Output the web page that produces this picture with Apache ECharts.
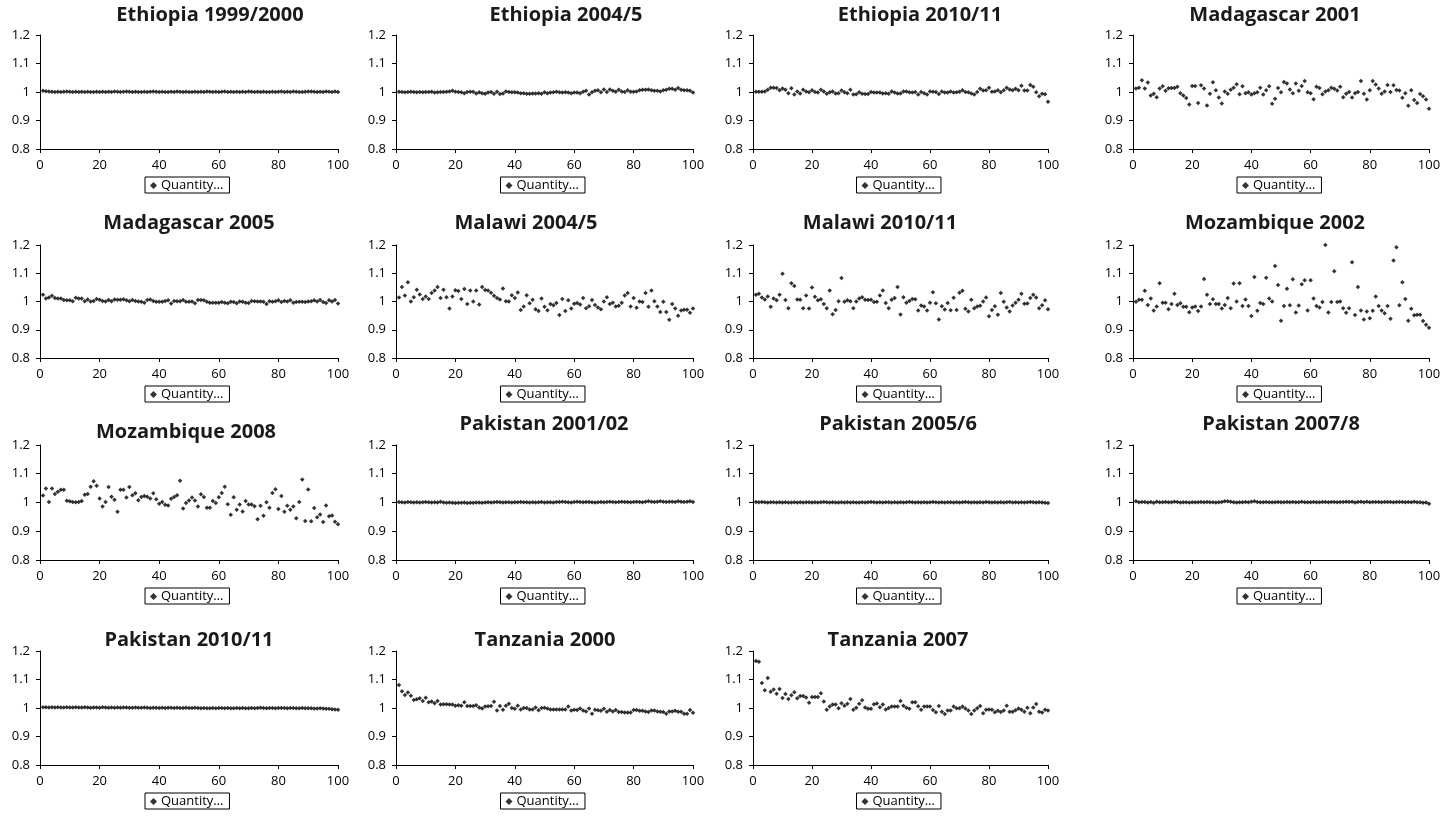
<!DOCTYPE html>
<html>
<head>
<meta charset="utf-8">
<script src="https://cdn.jsdelivr.net/npm/echarts@6/dist/echarts.min.js"></script>
<style>
  html, body { margin: 0; padding: 0; background: #fff; }
  #chart { width: 1452px; height: 817px; }
</style>
</head>
<body>
<div id="chart"></div>
<script>
// Panel titles, in reading order (left to right, top to bottom)
const panelTitles = [
  'Ethiopia 1999/2000', 'Ethiopia 2004/5', 'Ethiopia 2010/11', 'Madagascar 2001',
  'Madagascar 2005', 'Malawi 2004/5', 'Malawi 2010/11', 'Mozambique 2002',
  'Mozambique 2008', 'Pakistan 2001/02', 'Pakistan 2005/6', 'Pakistan 2007/8',
  'Pakistan 2010/11', 'Tanzania 2000', 'Tanzania 2007'
];
const seriesName = 'Quantity\u2026';

// Ratios by percentile (1..100) for each survey
const ethiopia1999 = [
  1.004,1.003,1.002,1.001,1.000,1.001,1.000,1.001,1.002,1.001,
  1.000,1.001,1.000,1.001,1.000,1.001,1.000,1.000,1.001,1.000,
  1.001,1.000,1.001,1.000,1.002,1.001,1.000,1.001,1.002,1.001,
  1.000,1.001,1.000,1.000,1.001,1.000,1.001,1.002,1.001,1.000,
  1.001,1.000,1.000,1.001,1.000,1.002,1.001,1.000,1.001,1.000,
  1.000,1.001,1.000,1.001,1.000,1.002,1.001,1.000,1.001,1.000,
  1.001,1.002,1.000,1.001,1.000,1.001,1.000,1.001,1.000,1.002,
  1.001,1.000,1.001,1.000,1.001,1.000,1.000,1.001,1.000,1.001,
  1.002,1.000,1.001,1.000,1.002,1.001,1.000,1.000,1.001,1.002,
  1.002,1.001,1.000,1.001,1.000,1.002,1.001,1.000,1.002,1.000
];
const ethiopia2004 = [
  1.001,1.000,0.999,1.000,1.001,1.000,0.999,1.000,0.999,1.000,
  1.000,1.001,0.998,0.999,1.000,1.000,1.001,1.002,1.004,1.001,
  1.000,0.999,0.996,1.000,1.001,1.001,0.995,0.999,0.996,0.994,
  0.998,1.000,0.994,1.001,0.993,0.995,1.002,1.000,0.999,0.999,
  0.998,0.996,0.996,0.994,0.994,0.995,0.995,0.996,0.994,0.999,
  0.996,0.998,0.999,1.001,0.999,0.998,0.999,0.998,0.996,0.998,
  0.998,0.996,1.001,1.004,0.991,0.999,1.004,1.006,0.999,1.009,
  1.000,1.009,1.004,1.001,1.008,1.002,1.000,1.006,1.001,1.001,
  1.002,1.006,1.008,1.008,1.009,1.006,1.004,1.004,1.002,1.006,
  1.008,1.011,1.011,1.008,1.014,1.008,1.006,1.006,1.004,0.998
];
const ethiopia2010 = [
  1.001,1.001,1.001,1.002,1.008,1.015,1.015,1.014,1.006,1.012,
  1.008,0.996,1.013,0.991,1.002,0.995,1.008,1.002,0.999,1.006,
  1.000,0.998,1.008,1.002,0.994,0.999,1.002,0.995,0.996,1.005,
  0.999,0.996,1.008,0.991,0.992,0.999,0.994,0.993,0.993,1.000,
  0.998,0.998,0.998,0.995,0.996,0.994,1.002,0.998,0.995,0.995,
  1.002,1.002,0.999,0.998,1.000,0.991,1.000,0.996,0.991,1.002,
  1.001,1.000,0.993,1.002,0.998,0.998,1.002,0.998,0.999,1.001,
  1.006,1.000,0.999,0.995,0.991,1.000,1.011,1.005,1.006,1.015,
  1.001,1.002,1.006,0.999,1.006,1.015,1.009,1.006,1.011,1.006,
  1.022,1.005,1.005,1.025,1.018,0.999,0.985,0.994,0.992,0.966
];
const madagascar2001 = [
  1.012,1.015,1.041,1.012,1.033,0.988,0.994,0.982,1.012,1.020,
  1.004,1.013,1.014,1.014,1.018,0.996,0.988,0.979,0.956,1.021,
  1.021,0.961,1.024,1.012,0.953,0.994,1.034,1.006,0.981,0.960,
  1.002,0.994,1.008,1.015,1.027,0.992,1.020,0.996,0.999,0.991,
  0.996,0.999,1.015,0.991,1.006,1.020,0.959,0.976,1.014,0.999,
  1.035,1.030,1.009,0.996,1.030,1.004,1.021,1.039,0.999,0.996,
  0.975,1.018,1.014,0.992,1.002,1.006,1.015,1.011,1.005,1.018,
  0.982,0.994,1.000,0.981,0.996,1.000,1.039,0.994,0.974,1.006,
  1.039,1.026,1.012,0.994,1.002,1.025,1.000,1.024,1.007,1.005,
  0.980,0.996,0.952,1.006,0.972,0.961,0.993,0.985,0.974,0.941
];
const madagascar2005 = [
  1.024,1.011,1.014,1.020,1.012,1.011,1.011,1.005,1.004,1.004,
  1.001,1.013,1.011,1.011,1.001,1.007,1.000,1.002,1.009,1.006,
  1.002,1.000,1.005,1.001,1.007,1.006,1.006,1.008,1.004,1.001,
  1.005,1.002,1.000,0.999,0.996,1.005,1.007,1.002,0.999,0.999,
  0.999,1.002,1.004,0.993,1.002,1.001,1.001,1.005,0.999,0.999,
  1.000,0.994,1.005,1.005,1.004,0.999,0.996,0.996,0.996,0.996,
  0.998,0.996,0.994,0.999,0.998,0.994,1.000,0.999,0.996,0.995,
  1.002,1.001,1.000,1.000,0.999,0.991,1.001,0.999,1.001,1.004,
  0.998,1.002,1.000,1.004,0.996,0.998,0.999,0.999,0.998,1.000,
  1.001,1.004,1.000,1.005,0.998,0.995,1.004,1.000,1.005,0.993
];
const malawi2004 = [
  1.014,1.051,1.021,1.068,1.000,1.015,1.042,1.025,1.009,1.018,
  1.009,1.030,1.039,1.051,1.012,1.042,1.015,0.975,1.018,1.040,
  1.037,1.009,1.044,0.991,1.039,1.000,1.039,0.989,1.051,1.041,
  1.039,1.031,1.020,1.012,1.007,1.046,1.001,1.000,1.022,1.012,
  1.032,0.970,0.982,1.022,0.994,1.006,0.973,0.966,1.011,0.981,
  0.969,0.991,0.987,0.995,0.952,1.009,0.966,1.004,0.975,0.992,
  0.995,0.989,1.012,0.976,0.983,1.005,0.988,0.979,0.973,1.000,
  1.015,0.991,0.996,0.982,0.985,0.996,1.021,1.030,0.982,1.012,
  0.978,1.000,0.998,1.030,0.981,1.039,1.001,0.982,0.963,0.999,
  0.963,0.935,0.991,0.975,0.950,0.968,0.971,0.971,0.960,0.975
];
const malawi2010 = [
  1.024,1.027,1.014,1.007,1.018,0.981,1.011,1.004,1.024,1.098,
  1.005,0.976,1.065,1.055,1.007,1.006,0.976,1.021,0.975,1.050,
  1.017,1.004,1.008,0.991,0.976,1.039,0.955,0.970,1.001,1.083,
  0.999,1.004,1.001,0.976,1.000,1.011,1.015,1.006,1.005,1.006,
  0.998,0.999,1.021,1.039,0.995,0.976,1.006,1.012,1.051,0.954,
  1.015,0.996,1.002,1.009,1.008,0.968,0.986,0.982,0.968,0.996,
  1.033,0.994,0.936,0.983,0.972,0.995,0.969,1.013,0.970,1.031,
  1.038,0.974,0.965,1.006,0.976,0.982,0.985,1.000,1.014,0.948,
  0.970,0.983,0.953,1.030,0.999,0.979,0.965,0.986,0.996,1.006,
  1.027,0.992,0.993,1.012,1.024,1.014,0.976,0.987,1.004,0.973
];
const mozambique2002 = [
  0.999,1.006,1.006,1.038,0.988,1.011,0.968,0.982,1.065,0.996,
  0.996,0.973,0.991,1.027,0.988,0.994,0.981,0.981,0.962,0.979,
  0.982,0.966,0.982,1.080,1.024,0.991,1.008,0.991,0.991,0.975,
  0.988,1.012,0.976,1.064,1.000,1.065,0.984,1.007,0.984,0.949,
  1.087,0.967,0.995,0.991,1.084,1.011,1.000,1.126,1.058,0.932,
  0.984,1.045,0.987,1.079,0.961,0.986,1.061,1.075,0.968,1.075,
  1.011,0.984,0.979,0.998,1.200,0.961,0.998,1.107,0.998,1.000,
  0.976,0.960,0.976,1.139,0.952,1.051,0.968,0.936,0.965,0.941,
  0.967,1.018,0.984,0.968,0.958,0.984,0.939,1.145,1.192,0.987,
  1.068,1.009,0.932,0.974,0.951,0.953,0.953,0.931,0.918,0.907
];
const mozambique2008 = [
  1.024,1.049,1.002,1.049,1.030,1.037,1.044,1.044,1.006,1.004,
  1.002,1.001,1.002,1.005,1.027,1.030,1.055,1.074,1.058,1.014,
  0.986,1.002,1.054,1.020,1.010,0.968,1.044,1.044,1.017,1.054,
  1.025,1.032,1.008,1.019,1.023,1.020,1.014,1.032,1.011,0.996,
  1.002,0.992,0.990,1.013,1.019,1.025,1.076,0.979,0.998,1.007,
  1.017,1.007,0.986,1.029,1.019,0.982,0.982,1.005,0.998,1.018,
  1.033,1.055,0.994,0.957,1.018,0.975,0.993,0.969,1.005,0.993,
  0.993,0.987,0.942,0.989,0.954,1.001,0.982,1.033,1.046,0.977,
  1.023,0.968,0.989,0.975,0.986,0.945,1.002,1.080,0.936,1.045,
  0.935,0.981,0.949,0.958,0.932,0.990,0.952,0.955,0.933,0.924
];
const pakistan2001 = [
  1.002,1.001,1.000,1.002,1.001,1.000,1.001,1.000,1.001,1.002,
  1.001,1.000,1.001,1.000,1.003,1.000,0.999,1.000,0.999,0.998,
  0.999,0.999,1.000,0.998,0.999,0.999,1.000,1.000,0.999,1.000,
  1.001,1.000,1.001,1.002,1.001,1.000,1.001,1.001,1.000,1.001,
  1.001,1.002,1.001,1.001,1.000,1.001,1.000,1.001,1.002,1.000,
  1.001,1.001,1.000,1.002,1.002,1.003,1.002,1.001,1.000,1.002,
  1.003,1.002,1.001,1.002,1.002,1.001,1.000,1.001,1.002,1.001,
  1.002,1.003,1.002,1.001,1.002,1.003,1.002,1.002,1.001,1.002,
  1.003,1.002,1.001,1.003,1.004,1.003,1.002,1.003,1.004,1.003,
  1.002,1.003,1.003,1.002,1.004,1.003,1.002,1.003,1.004,1.002
];
const pakistan2005 = [
  1.002,1.001,1.002,1.001,1.000,1.001,1.001,1.000,1.001,1.000,
  1.001,1.000,1.000,1.001,1.000,1.001,1.000,1.001,1.001,1.000,
  1.001,1.000,1.001,1.002,1.001,1.000,1.001,1.000,1.000,1.001,
  1.000,1.001,1.000,1.001,1.000,1.000,1.001,1.000,1.001,1.002,
  1.001,1.000,1.001,1.000,1.001,1.001,1.000,1.001,1.000,1.001,
  1.000,1.001,1.002,1.001,1.000,1.001,1.000,1.001,1.000,1.001,
  1.002,1.001,1.000,1.001,1.000,1.001,1.001,1.000,1.001,1.000,
  1.001,1.002,1.001,1.000,1.001,1.000,1.001,1.000,1.002,1.001,
  1.000,1.001,1.000,1.001,1.000,1.001,1.002,1.000,1.001,1.000,
  1.001,1.000,1.001,1.002,1.001,1.000,1.001,1.000,0.999,0.998
];
const pakistan2007 = [
  1.004,1.001,1.002,1.002,1.000,1.002,0.999,1.003,1.001,1.001,
  1.002,1.001,1.001,1.003,1.002,1.000,1.001,1.001,1.000,1.001,
  1.001,1.001,1.002,1.001,1.002,1.001,1.001,1.000,1.001,1.002,
  1.004,1.004,1.003,1.001,1.000,1.001,1.001,1.002,1.001,1.003,
  1.004,1.002,1.001,1.001,1.002,1.001,1.001,1.001,1.002,1.001,
  1.001,1.002,1.001,1.002,1.001,1.001,1.003,1.001,1.001,1.001,
  1.002,1.001,1.001,1.002,1.002,1.001,1.002,1.002,1.001,1.002,
  1.002,1.003,1.002,1.003,1.000,1.002,1.003,1.001,1.003,1.001,
  1.002,1.002,1.002,1.001,1.002,1.002,1.002,1.001,1.002,1.002,
  1.002,1.001,1.002,1.001,1.003,1.001,1.001,0.999,1.000,0.996
];
const pakistan2010 = [
  1.003,1.003,1.002,1.003,1.002,1.003,1.002,1.002,1.003,1.002,
  1.002,1.003,1.002,1.002,1.003,1.002,1.001,1.002,1.002,1.001,
  1.003,1.002,1.001,1.002,1.001,1.002,1.001,1.002,1.002,1.001,
  1.001,1.002,1.001,1.001,1.002,1.001,1.000,1.001,1.001,1.000,
  1.001,1.000,1.001,1.001,1.000,1.001,1.000,1.000,1.001,1.000,
  1.000,1.001,1.000,0.999,1.000,0.999,0.999,1.000,0.999,1.000,
  1.000,0.999,1.000,0.999,0.999,1.000,0.999,1.000,0.999,0.999,
  1.000,0.999,1.000,1.001,1.000,0.999,1.000,1.000,0.999,1.000,
  1.000,1.000,0.999,1.000,1.000,0.999,0.999,1.000,0.999,0.999,
  0.999,0.998,0.998,0.999,0.998,0.997,0.997,0.996,0.995,0.994
];
const tanzania2000 = [
  1.081,1.059,1.046,1.054,1.043,1.028,1.031,1.034,1.025,1.036,
  1.020,1.023,1.017,1.025,1.012,1.013,1.013,1.012,1.012,1.008,
  1.010,1.008,1.020,1.007,1.007,1.007,1.010,1.002,0.998,1.005,
  1.006,1.007,1.022,0.991,1.007,0.994,1.008,1.015,1.000,0.997,
  1.008,0.995,1.000,1.000,0.995,0.995,1.002,0.992,1.000,1.001,
  0.998,0.995,0.995,0.995,0.995,0.995,0.995,1.005,0.991,0.994,
  0.993,0.998,0.991,0.988,0.998,0.980,0.994,0.992,0.990,0.997,
  0.987,0.993,0.988,0.993,0.986,0.986,0.984,0.984,0.984,0.993,
  0.993,0.990,0.990,0.988,0.986,0.991,0.991,0.988,0.987,0.986,
  0.980,0.988,0.988,0.990,0.987,0.987,0.980,0.980,0.993,0.983
];
const tanzania2007 = [
  1.165,1.162,1.088,1.062,1.105,1.057,1.065,1.050,1.067,1.035,
  1.049,1.032,1.045,1.055,1.034,1.042,1.042,1.037,1.018,1.039,
  1.039,1.039,1.052,1.023,0.994,1.005,1.012,1.012,0.999,1.017,
  1.008,1.015,1.032,0.994,1.001,1.015,1.027,1.002,0.997,0.997,
  1.013,1.016,1.003,1.012,0.995,1.000,1.005,1.005,1.005,1.025,
  1.008,1.001,0.997,1.020,1.020,1.006,0.994,1.005,1.005,1.005,
  0.993,0.985,1.007,0.987,0.979,0.991,0.991,1.005,0.999,0.999,
  1.005,0.998,0.991,0.979,0.991,0.999,1.007,0.982,0.994,0.995,
  0.994,0.985,0.990,0.986,0.991,1.008,0.987,0.987,0.992,0.998,
  0.994,0.987,1.001,0.982,1.002,1.014,0.987,0.984,0.994,0.991
];

const panelValues = [
  ethiopia1999, ethiopia2004, ethiopia2010, madagascar2001,
  madagascar2005, malawi2004, malawi2010, mozambique2002,
  mozambique2008, pakistan2001, pakistan2005, pakistan2007,
  pakistan2010, tanzania2000, tanzania2007
];

// Panel geometry (plot area edges in px)
const colLeft  = [40, 396, 753, 1133];
const colRight = [338, 693, 1048, 1429];
const rowTop    = [35, 245, 445, 651];
const rowBottom = [149, 358, 560, 765];
// Title centres for each panel [x, y]
const titlePos = [
  [210, 15], [566, 15], [920, 15], [1275, 15],
  [189, 223], [526, 223], [880, 223], [1275, 223],
  [186, 432], [544, 424], [898, 424], [1281, 424],
  [189, 640], [545, 640], [898, 640]
];

const font = 'Open Sans, DejaVu Sans, sans-serif';
const ink = '#000';

const grid = [], xAxis = [], yAxis = [], series = [], title = [], legend = [];
panelValues.forEach(function (vals, i) {
  const c = i % 4, r = Math.floor(i / 4);
  const left = colLeft[c], right = colRight[c];
  const top = rowTop[r], bottom = rowBottom[r];
  grid.push({ left: left, top: top, width: right - left, height: bottom - top });
  xAxis.push({
    gridIndex: i, type: 'value', min: 0, max: 100, interval: 20,
    axisLine: { show: true, onZero: false, lineStyle: { color: ink, width: 1 } },
    axisTick: { show: true, length: 4, lineStyle: { color: ink } },
    splitLine: { show: false },
    axisLabel: { color: ink, fontSize: 13, fontFamily: font, margin: 10 }
  });
  yAxis.push({
    gridIndex: i, type: 'value', min: 0.8, max: 1.2, interval: 0.1,
    axisLine: { show: true, onZero: false, lineStyle: { color: ink, width: 1 } },
    axisTick: { show: true, length: 4, lineStyle: { color: ink } },
    splitLine: { show: false },
    axisLabel: { color: ink, fontSize: 13, fontFamily: font, margin: 10 }
  });
  series.push({
    name: seriesName, type: 'scatter', xAxisIndex: i, yAxisIndex: i,
    symbol: 'diamond', symbolSize: 4.5,
    itemStyle: { color: '#000' },
    data: vals.map(function (v, k) { return [k + 1, v]; }),
    silent: true
  });
  title.push({
    text: panelTitles[i], left: titlePos[i][0], top: titlePos[i][1] - 11,
    textAlign: 'center',
    textStyle: { fontFamily: font, fontWeight: 'bold', fontSize: 20, lineHeight: 22, color: '#1a1a1a' },
    padding: 0
  });
  const cx = (left + right) / 2;
  legend.push({
    data: [{ name: seriesName, icon: 'diamond' }],
    left: cx - 44, top: bottom + 28,
    orient: 'horizontal',
    itemWidth: 7, itemHeight: 7, itemGap: 4,
    borderColor: ink, borderWidth: 1, padding: [1, 6, 0, 5],
    selectedMode: false,
    textStyle: { fontFamily: font, fontSize: 13, lineHeight: 15, color: ink, padding: [0, 0, 0, -1] }
  });
});

const chart = echarts.init(document.getElementById('chart'), null, { renderer: 'canvas' });
chart.setOption({
  backgroundColor: '#fff',
  animation: false,
  title: title,
  legend: legend,
  grid: grid,
  xAxis: xAxis,
  yAxis: yAxis,
  series: series
});
</script>
</body>
</html>
